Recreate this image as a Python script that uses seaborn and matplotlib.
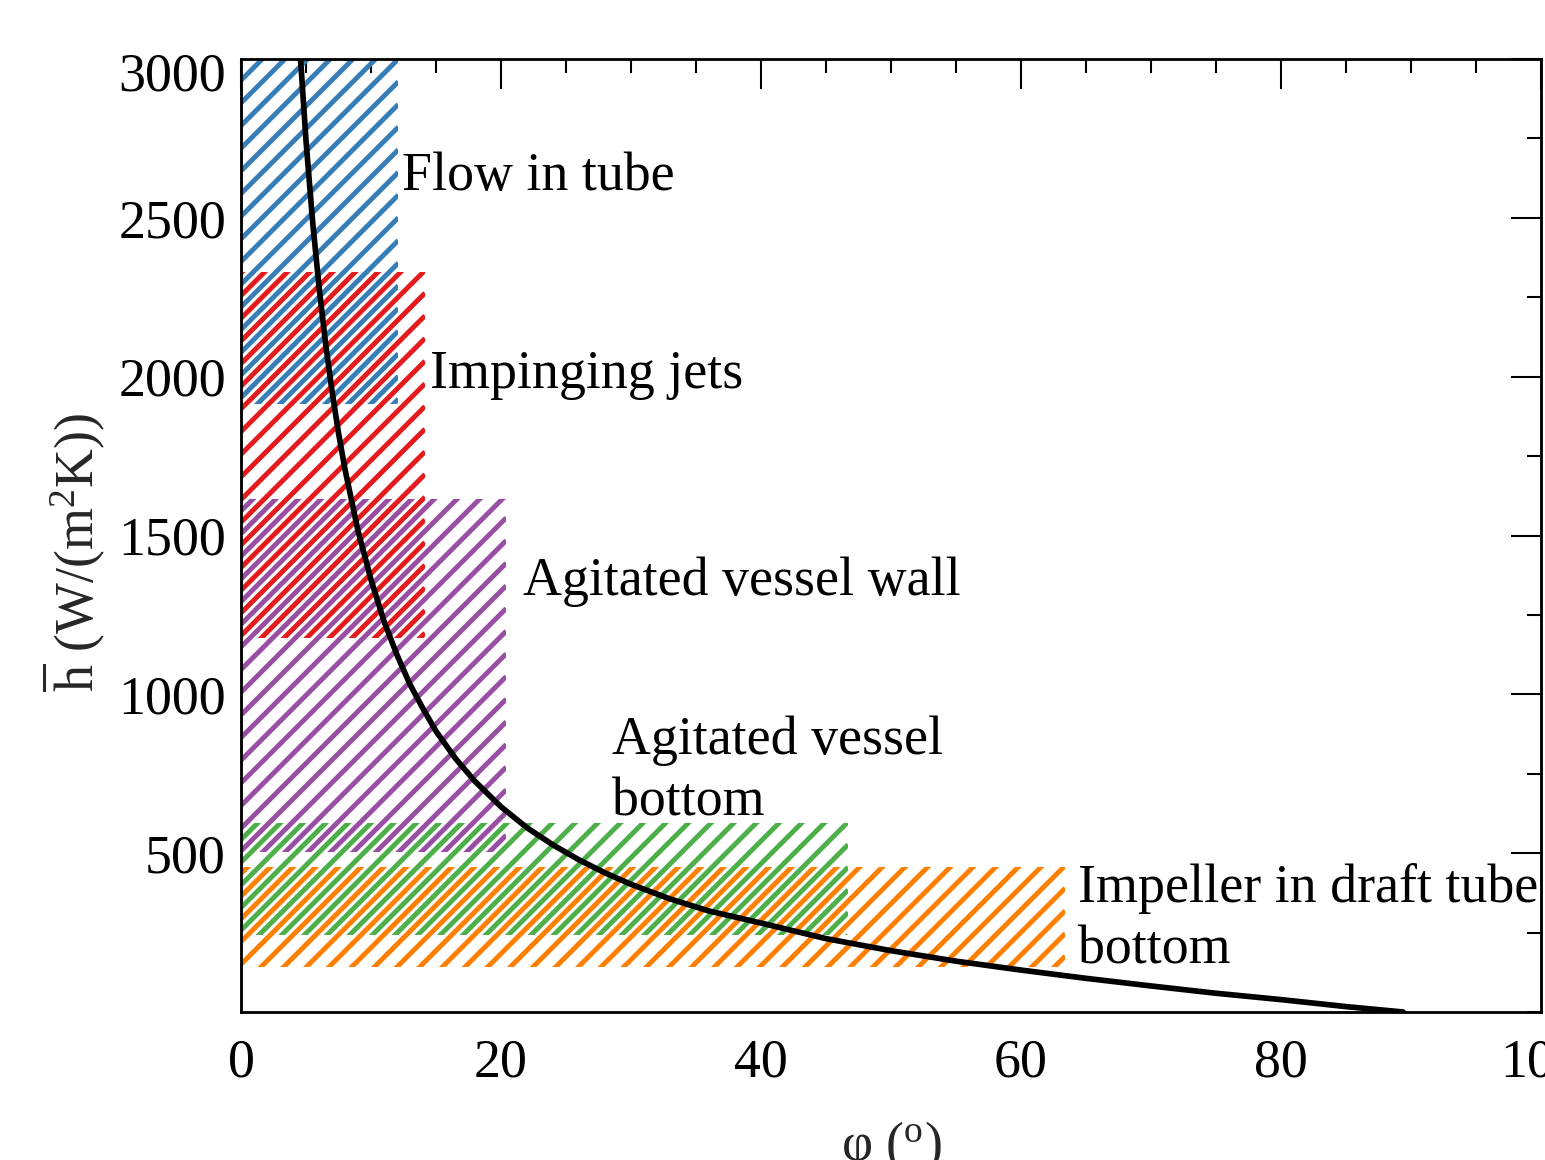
import matplotlib
matplotlib.use("Agg")
import numpy as np
import matplotlib.pyplot as plt
from matplotlib.ticker import MultipleLocator
from matplotlib.collections import LineCollection
from matplotlib.transforms import IdentityTransform, ScaledTranslation
import seaborn as sns

# mean heat transfer coefficient vs. angle
phi = [4.5, 5.0, 5.5, 6.0, 6.5, 7.0, 7.5, 8.0, 9.0, 10.0, 11.0, 12.0,
       13.0, 14.0, 15.0, 16.5, 18.0, 20.0, 22.0, 24.0, 26.0, 28.0, 30.0,
       33.0, 36.0, 40.0, 45.0, 50.0, 55.0, 60.0, 65.0, 70.0, 75.0, 80.0,
       85.0, 89.4]
h_bar = [3050, 2743, 2492, 2284, 2106, 1955, 1823, 1708, 1515, 1361, 1230, 1124,
         1031, 955, 884, 798, 726, 646, 580, 526, 479, 438, 402,
         356, 318, 280, 231, 193, 160, 132, 106, 82, 59, 39,
         17, 0]

# typical ranges of h for each configuration
regions = ["Flow in tube", "Impinging jets", "Agitated vessel wall",
           "Agitated vessel\nbottom", "Impeller in draft tube\nbottom"]
phi_max = [12.1, 14.15, 20.4, 46.7, 63.4]
h_low = [1915, 1177, 504, 242, 143]
h_high = [3000, 2330, 1616, 594, 457]

# where the region names sit (data coords, baseline of the last line)
label_pos = [(12.36, 2587), (14.54, 1963), (21.7, 1312), (28.5, 620), (64.4, 154)]

sns.set_style("white")
plt.rcParams['font.family'] = ['Liberation Serif', 'DejaVu Serif']
plt.rcParams['mathtext.fontset'] = 'custom'
plt.rcParams['mathtext.rm'] = 'Liberation Serif'
plt.rcParams['mathtext.it'] = 'Liberation Serif:italic'

colors = sns.color_palette("Set1", 5)
# Set1 order: red, blue, green, purple, orange -> map to regions
region_colors = [colors[1], colors[0], colors[3], colors[2], colors[4]]
# neighbouring regions get their stripes shifted half a step so they interleave
hatch_phase = [0.0, 0.5, 0.0, 0.5, 0.0]

fs = 28.5
dpi = 136
fig = plt.figure(figsize=(1545 / dpi, 1160 / dpi), dpi=dpi)
ax = fig.add_axes([241 / 1545, 148 / 1160, 1300 / 1545, 953 / 1160])

ax.set_xlim(0, 100)
ax.set_ylim(0, 3000)


def hatch_patch(ax, patch, color, phase, spacing=dpi / 6, lw=2.6):
    # diagonal stripes in pixel space, clipped to the bar
    bb = patch.get_window_extent()
    x0, y0, x1, y1 = bb.x0, bb.y0, bb.x1, bb.y1
    n0 = int(np.floor((y0 - x1) / spacing)) - 1
    n1 = int(np.ceil((y1 - x0) / spacing)) + 1
    segs = []
    for n in range(n0, n1 + 1):
        k = (n + phase) * spacing
        segs.append([(x0, x0 + k), (x1, x1 + k)])
    lc = LineCollection(segs, colors=[color], linewidths=lw,
                        transform=IdentityTransform(), capstyle='butt', zorder=1)
    ax.add_collection(lc, autolim=False)
    lc.set_clip_path(patch)


for name, pmax, lo, hi, c, ph in zip(regions, phi_max, h_low, h_high,
                                     region_colors, hatch_phase):
    bars = ax.bar(0, hi - lo, width=pmax, bottom=lo, align='edge',
                  facecolor='none', edgecolor='none', linewidth=0, zorder=1)
    hatch_patch(ax, bars.patches[0], c, ph)

for name, (tx, ty) in zip(regions, label_pos):
    ax.text(tx, ty, name, fontsize=fs, ha='left', va='baseline', color='black',
            linespacing=1.28)

sns.lineplot(x=phi, y=h_bar, color='black', linewidth=3.0, ax=ax, zorder=3)

ax.set_xlim(0, 100)
ax.set_ylim(0, 3000)
ax.xaxis.set_major_locator(MultipleLocator(20))
ax.xaxis.set_minor_locator(MultipleLocator(5))
ax.yaxis.set_minor_locator(MultipleLocator(250))
ax.set_yticks([500, 1000, 1500, 2000, 2500, 3000])

ax.tick_params(which='both', direction='in', top=True, right=True,
               colors='black', labelsize=fs)
ax.tick_params(which='major', length=15.9, width=1.1)
ax.tick_params(which='minor', length=7.4, width=1.1)
ax.tick_params(axis='y', pad=8)
ax.tick_params(axis='x', pad=14)

# top label sits just below the axis corner
top_lab = ax.get_yticklabels()[-1]
top_lab.set_va('top')
top_lab.set_transform(top_lab.get_transform()
                      + ScaledTranslation(0, 7 / dpi, fig.dpi_scale_trans))

for sp in ax.spines.values():
    sp.set_linewidth(1.5)
    sp.set_color('black')

ax.set_xlabel(r"φ ($^{\mathrm{o}}$)", fontsize=fs, labelpad=16)
ax.set_ylabel(r"$\overline{\mathrm{h}}$ (W/(m$^2$K))", fontsize=fs)
ax.yaxis.set_label_coords(-0.103, 0.482)

fig.savefig("out.png", dpi=dpi)
